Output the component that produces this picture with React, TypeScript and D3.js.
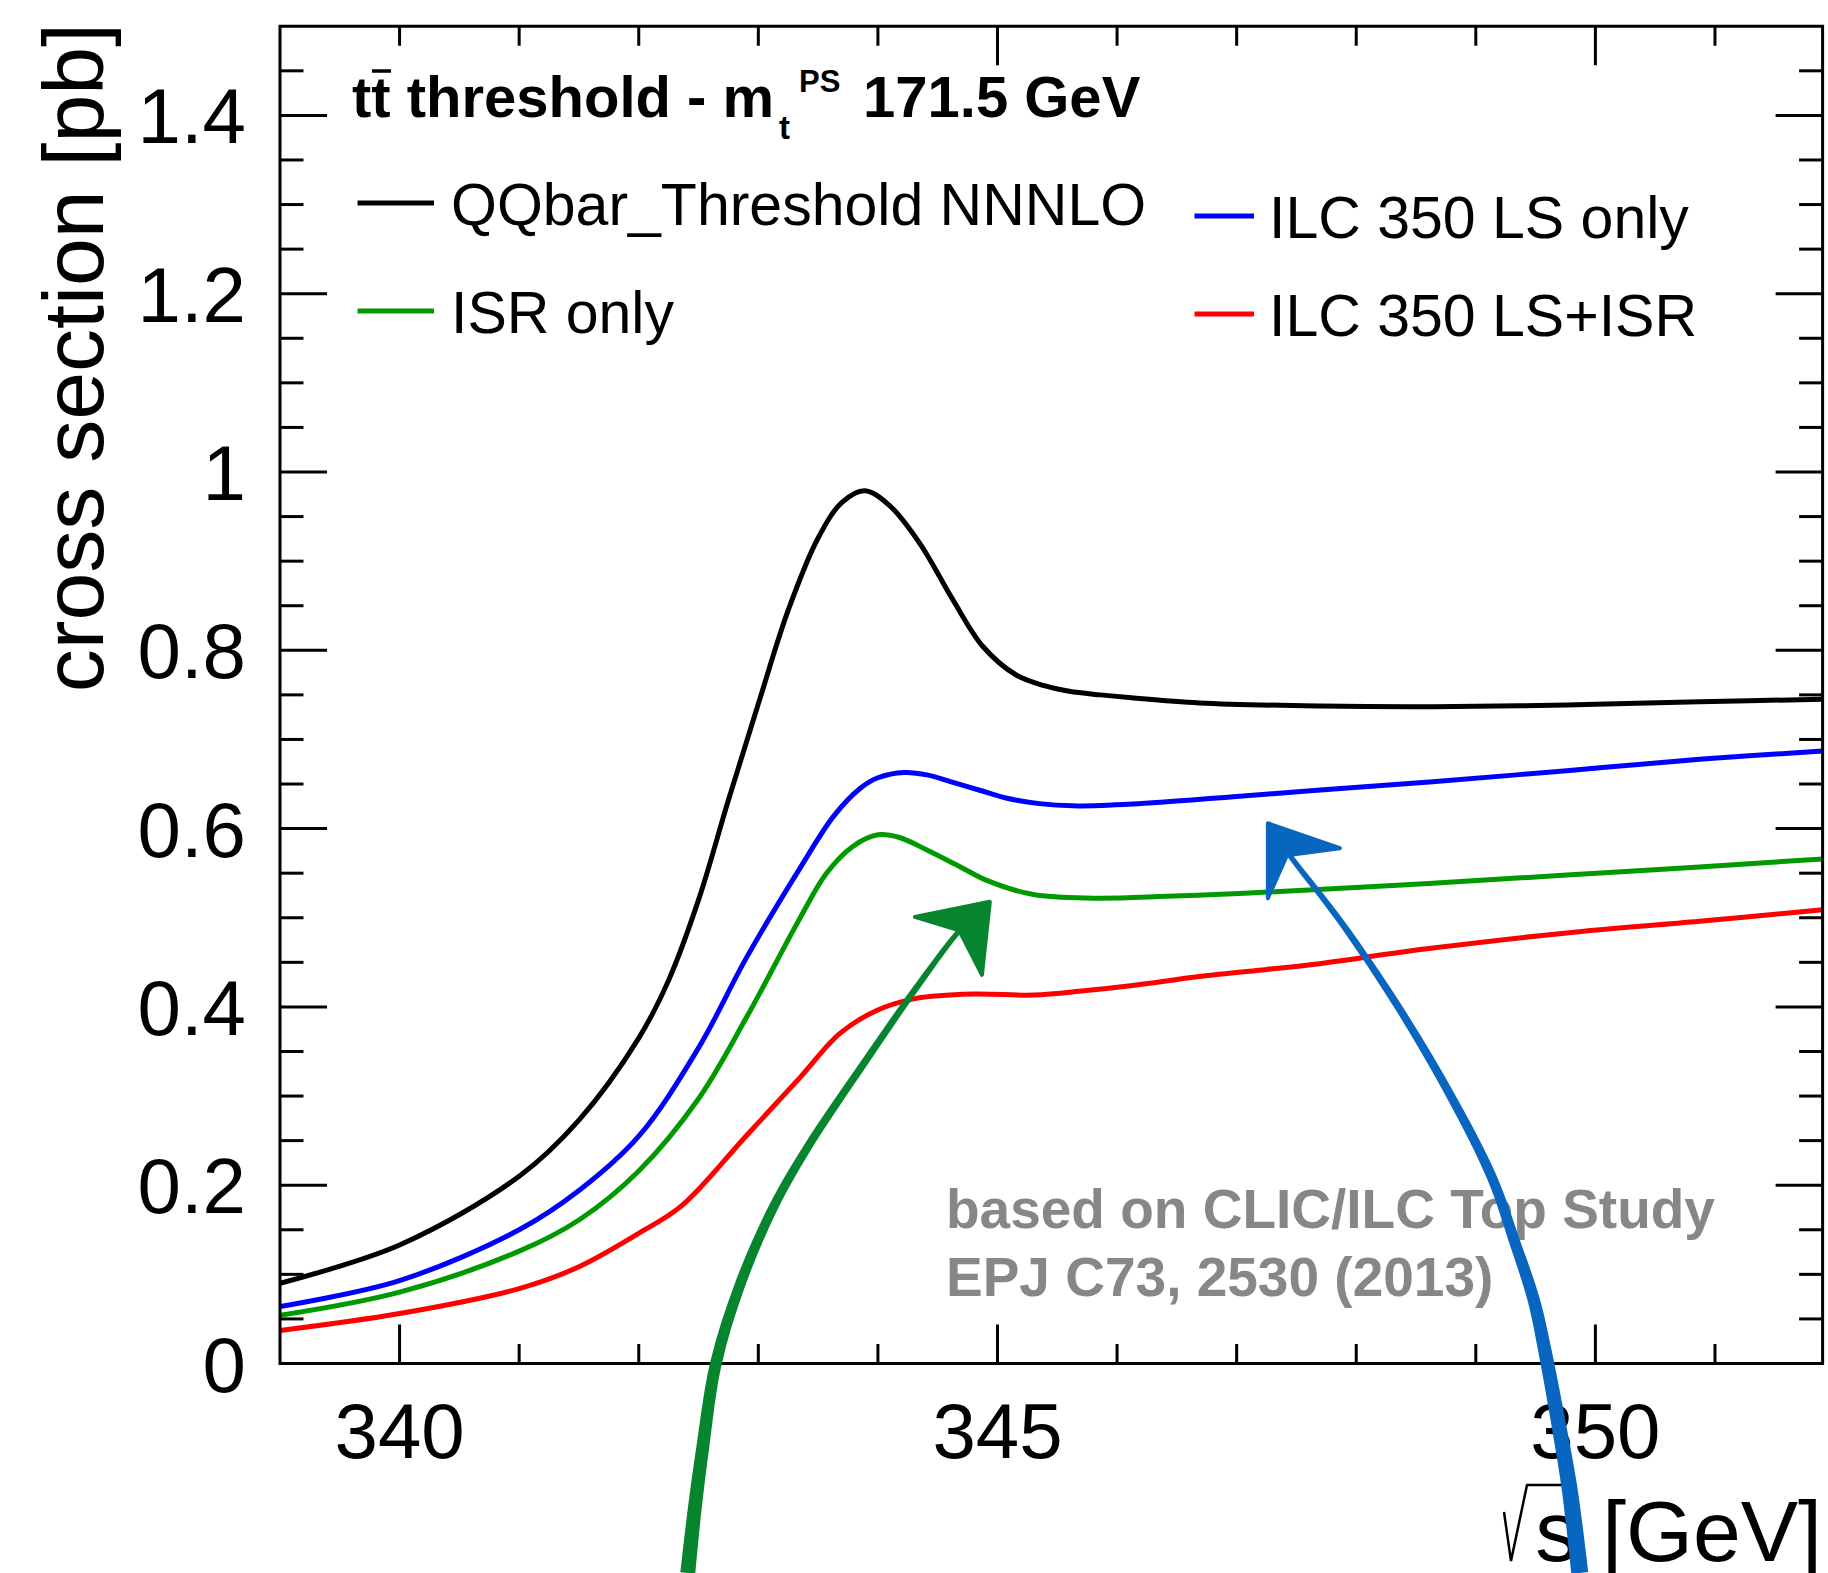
import React from "react";
import * as d3 from "d3";

const WIDTH = 1828;
const HEIGHT = 1573;
const FONT = '"Liberation Sans", Arial, Helvetica, sans-serif';

// cross section [pb] against sqrt(s) [GeV]
const qqbarNNNLO: [number, number][] = [
  [339.0, 0.09], [340.0, 0.133], [341.0, 0.21], [341.5, 0.273], [342.0, 0.365],
  [342.25, 0.43], [342.5, 0.52], [342.75, 0.632], [343.0, 0.74], [343.25, 0.845],
  [343.5, 0.926], [343.7, 0.966], [343.89, 0.979], [344.1, 0.962], [344.35, 0.92],
  [344.63, 0.856], [344.88, 0.804], [345.16, 0.772], [345.4, 0.76], [345.6, 0.754],
  [345.86, 0.75], [346.1, 0.747], [346.69, 0.741], [347.7, 0.7375], [348.64, 0.7367],
  [349.76, 0.7387], [350.87, 0.7424], [351.9, 0.745],
];

const lsOnly: [number, number][] = [
  [339.0, 0.064], [340.0, 0.093], [341.0, 0.15], [341.5, 0.194], [342.0, 0.255],
  [342.5, 0.354], [342.9, 0.455], [343.35, 0.556], [343.63, 0.614], [343.85, 0.645],
  [344.0, 0.657], [344.22, 0.663], [344.42, 0.66], [344.6, 0.653], [344.85, 0.643],
  [345.08, 0.634], [345.35, 0.628], [345.63, 0.6255], [346.13, 0.6276], [346.97, 0.6358],
  [347.7, 0.6433], [348.64, 0.6526], [349.76, 0.665], [350.87, 0.6777], [351.9, 0.687],
];

const isrOnly: [number, number][] = [
  [339.0, 0.054], [340.0, 0.08], [341.0, 0.126], [341.5, 0.161], [342.0, 0.216],
  [342.5, 0.297], [342.9, 0.388], [343.35, 0.5], [343.57, 0.55], [343.79, 0.58],
  [344.0, 0.593], [344.18, 0.59], [344.41, 0.576], [344.69, 0.557], [344.91, 0.542],
  [345.3, 0.526], [345.8, 0.522], [346.41, 0.524], [346.97, 0.527], [347.6, 0.531],
  [348.64, 0.5386], [349.76, 0.548], [350.87, 0.557], [351.9, 0.566],
];

const lsPlusIsr: [number, number][] = [
  [339.0, 0.037], [340.0, 0.056], [341.0, 0.084], [341.5, 0.1085], [342.0, 0.146],
  [342.36, 0.177], [342.9, 0.2555], [343.35, 0.321], [343.68, 0.37], [343.99, 0.396],
  [344.32, 0.4096], [344.8, 0.4145], [345.3, 0.4133], [345.72, 0.418], [346.13, 0.424],
  [346.69, 0.434], [347.25, 0.442], [347.6, 0.447], [348.64, 0.466], [349.76, 0.483],
  [350.87, 0.496], [351.9, 0.509],
];

// hand drawn arrows, in data units (tail -> head)
const greenArrowShaft: [number, number][] = [
  [342.411, -0.235], [342.462, -0.17], [342.537, -0.0925], [342.645, 0.0], [342.846, 0.088],
  [343.114, 0.172], [343.398, 0.2395], [343.9, 0.34], [344.351, 0.427], [344.711, 0.49],
  [344.936, 0.518],
];
const greenArrowHead: [number, number][] = [
  [344.936, 0.518], [344.309, 0.501], [344.68, 0.486], [344.87, 0.436],
];
const blueArrowShaft: [number, number][] = [
  [349.87, -0.235], [349.786, -0.142], [349.702, -0.075], [349.585, 0.0095], [349.485, 0.071],
  [349.334, 0.133], [349.134, 0.209], [348.791, 0.3], [348.356, 0.399], [347.863, 0.497],
  [347.428, 0.573], [347.261, 0.606],
];
const blueArrowHead: [number, number][] = [
  [347.261, 0.606], [347.863, 0.578], [347.42, 0.57], [347.261, 0.522],
];

const xMajorTicks = [340, 345, 350];
const xTickLabels = ["340", "345", "350"];
const xMinorTicks = [340, 341, 342, 343, 344, 345, 346, 347, 348, 349, 350, 351];
const xTopMajorTicks = [345, 350];
const yMajorTicks = [0, 0.2, 0.4, 0.6, 0.8, 1.0, 1.2, 1.4];
const yTickLabels = ["0", "0.2", "0.4", "0.6", "0.8", "1", "1.2", "1.4"];
const yMinorTicks = d3.range(0, 30).map((i) => i * 0.05);

const series = [
  { name: "QQbar_Threshold NNNLO", data: qqbarNNNLO, color: "#000000" },
  { name: "ILC 350 LS only", data: lsOnly, color: "#0000ff" },
  { name: "ISR only", data: isrOnly, color: "#009900" },
  { name: "ILC 350 LS+ISR", data: lsPlusIsr, color: "#ff0000" },
];

function taperedPath(pts: [number, number][], w0: number, w1: number) {
  const n = pts.length;
  const left: [number, number][] = [];
  const right: [number, number][] = [];
  pts.forEach((p, i) => {
    const a = pts[Math.max(0, i - 1)];
    const b = pts[Math.min(n - 1, i + 1)];
    let dx = b[0] - a[0];
    let dy = b[1] - a[1];
    const len = Math.hypot(dx, dy) || 1;
    dx /= len;
    dy /= len;
    const w = (w0 + (w1 - w0) * (i / (n - 1))) / 2;
    left.push([p[0] - dy * w, p[1] + dx * w]);
    right.push([p[0] + dy * w, p[1] - dx * w]);
  });
  const line = d3.line().curve(d3.curveCatmullRom.alpha(0.5));
  const a = line(left) as string;
  const b = (line(right.reverse()) as string).replace(/^M/, "L");
  return a + b + "Z";
}

export default function App() {
  const left = 280;
  const right = 1822.6;
  const top = 26.25;
  const bottom = 1363.5;

  const x = d3.scaleLinear().domain([339, 351.9]).range([left, right]);
  const y = d3.scaleLinear().domain([0, 1.5]).range([bottom, top]);

  const curve = d3
    .line<[number, number]>()
    .x((d) => x(d[0]))
    .y((d) => y(d[1]))
    .curve(d3.curveCatmullRom.alpha(0.5));

  const toPx = (pts: [number, number][]) =>
    pts.map((d) => [x(d[0]), y(d[1])] as [number, number]);

  const xMajLen = 39;
  const xMinLen = 19.5;
  const yMajLen = 47;
  const yMinLen = 23.5;

  const arrows = [
    { shaft: greenArrowShaft, head: greenArrowHead, color: "#07852e", w0: 15, w1: 4 },
    { shaft: blueArrowShaft, head: blueArrowHead, color: "#0866c0", w0: 17, w1: 4 },
  ];

  return (
    <svg
      width={WIDTH}
      height={HEIGHT}
      style={{ position: "absolute", left: 0, top: 0, background: "#fff" }}
      fontFamily={FONT}
    >
      <rect x={0} y={0} width={WIDTH} height={HEIGHT} fill="#fff" />
      <defs>
        <clipPath id="plotClip">
          <rect x={left} y={top} width={right - left} height={bottom - top} />
        </clipPath>
      </defs>

      {/* ticks */}
      <g stroke="#000" strokeWidth={3}>
        {xMinorTicks.map((t) => {
          const big = xMajorTicks.includes(t);
          const bigTop = xTopMajorTicks.includes(t);
          return (
            <g key={"xt" + t}>
              <line x1={x(t)} x2={x(t)} y1={bottom} y2={bottom - (big ? xMajLen : xMinLen)} />
              <line x1={x(t)} x2={x(t)} y1={top} y2={top + (bigTop ? xMajLen : xMinLen)} />
            </g>
          );
        })}
        {yMinorTicks.map((t, i) => {
          const big = i % 4 === 0;
          return (
            <g key={"yt" + i}>
              <line x1={left} x2={left + (big ? yMajLen : yMinLen)} y1={y(t)} y2={y(t)} />
              <line x1={right} x2={right - (big ? yMajLen : yMinLen)} y1={y(t)} y2={y(t)} />
            </g>
          );
        })}
      </g>

      {/* curves */}
      <g clipPath="url(#plotClip)" fill="none" strokeWidth={5} strokeLinejoin="round">
        {series.map((s) => (
          <path key={s.name} d={curve(s.data) as string} stroke={s.color} />
        ))}
      </g>

      {/* frame */}
      <rect
        x={left}
        y={top}
        width={right - left}
        height={bottom - top}
        fill="none"
        stroke="#000"
        strokeWidth={3}
      />

      {/* tick labels */}
      <g fontSize={78} fill="#000">
        {xMajorTicks.map((t, i) => (
          <text key={"xl" + t} x={x(t)} y={1458} textAnchor="middle">
            {xTickLabels[i]}
          </text>
        ))}
        {yMajorTicks.map((t, i) => (
          <text key={"yl" + t} x={246} y={y(t) + 28} textAnchor="end">
            {yTickLabels[i]}
          </text>
        ))}
      </g>

      {/* axis titles */}
      <text
        transform="translate(103,23) rotate(-90)"
        textAnchor="end"
        fontSize={86}
        fill="#000"
      >
        cross section [pb]
      </text>
      <text x={1822} y={1561} textAnchor="end" fontSize={86} fill="#000">
        s [GeV]
      </text>
      <path
        d="M1504,1512 L1511,1561 L1527,1485 L1566,1485"
        fill="none"
        stroke="#000"
        strokeWidth={2.5}
        strokeLinejoin="miter"
      />

      {/* header */}
      <g fontWeight="bold" fill="#000">
        <text x={352} y={117} fontSize={58}>
          tt threshold - m
        </text>
        <line x1={372} x2={391} y1={71} y2={71} stroke="#000" strokeWidth={3.5} />
        <text x={779} y={139} fontSize={33}>t</text>
        <text x={799} y={92} fontSize={31}>PS</text>
        <text x={863} y={117} fontSize={58}>171.5 GeV</text>
      </g>

      {/* legend */}
      <g fontSize={59} fill="#000" strokeWidth={5}>
        <line x1={357.5} x2={434} y1={203} y2={203} stroke={series[0].color} />
        <text x={451} y={225}>{series[0].name}</text>
        <line x1={357.5} x2={434} y1={311} y2={311} stroke={series[2].color} />
        <text x={451} y={333}>{series[2].name}</text>
        <line x1={1194.5} x2={1254} y1={216} y2={216} stroke={series[1].color} />
        <text x={1269} y={238}>{series[1].name}</text>
        <line x1={1194.5} x2={1254} y1={314} y2={314} stroke={series[3].color} />
        <text x={1269} y={336}>{series[3].name}</text>
      </g>

      {/* reference note */}
      <g fontSize={55} fontWeight="bold" fill="#878787">
        <text x={946} y={1228}>based on CLIC/ILC Top Study</text>
        <text x={946} y={1296}>EPJ C73, 2530 (2013)</text>
      </g>

      {/* hand drawn arrows */}
      {arrows.map((a, i) => {
        const shaft = toPx(a.shaft);
        const head = toPx(a.head);
        return (
          <g key={"arrow" + i} fill={a.color}>
            <path d={taperedPath(shaft, a.w0, a.w1)} />
            <path
              d={"M" + head.map((p) => p.join(",")).join("L") + "Z"}
              stroke={a.color}
              strokeWidth={4}
              strokeLinejoin="round"
            />
          </g>
        );
      })}
    </svg>
  );
}
